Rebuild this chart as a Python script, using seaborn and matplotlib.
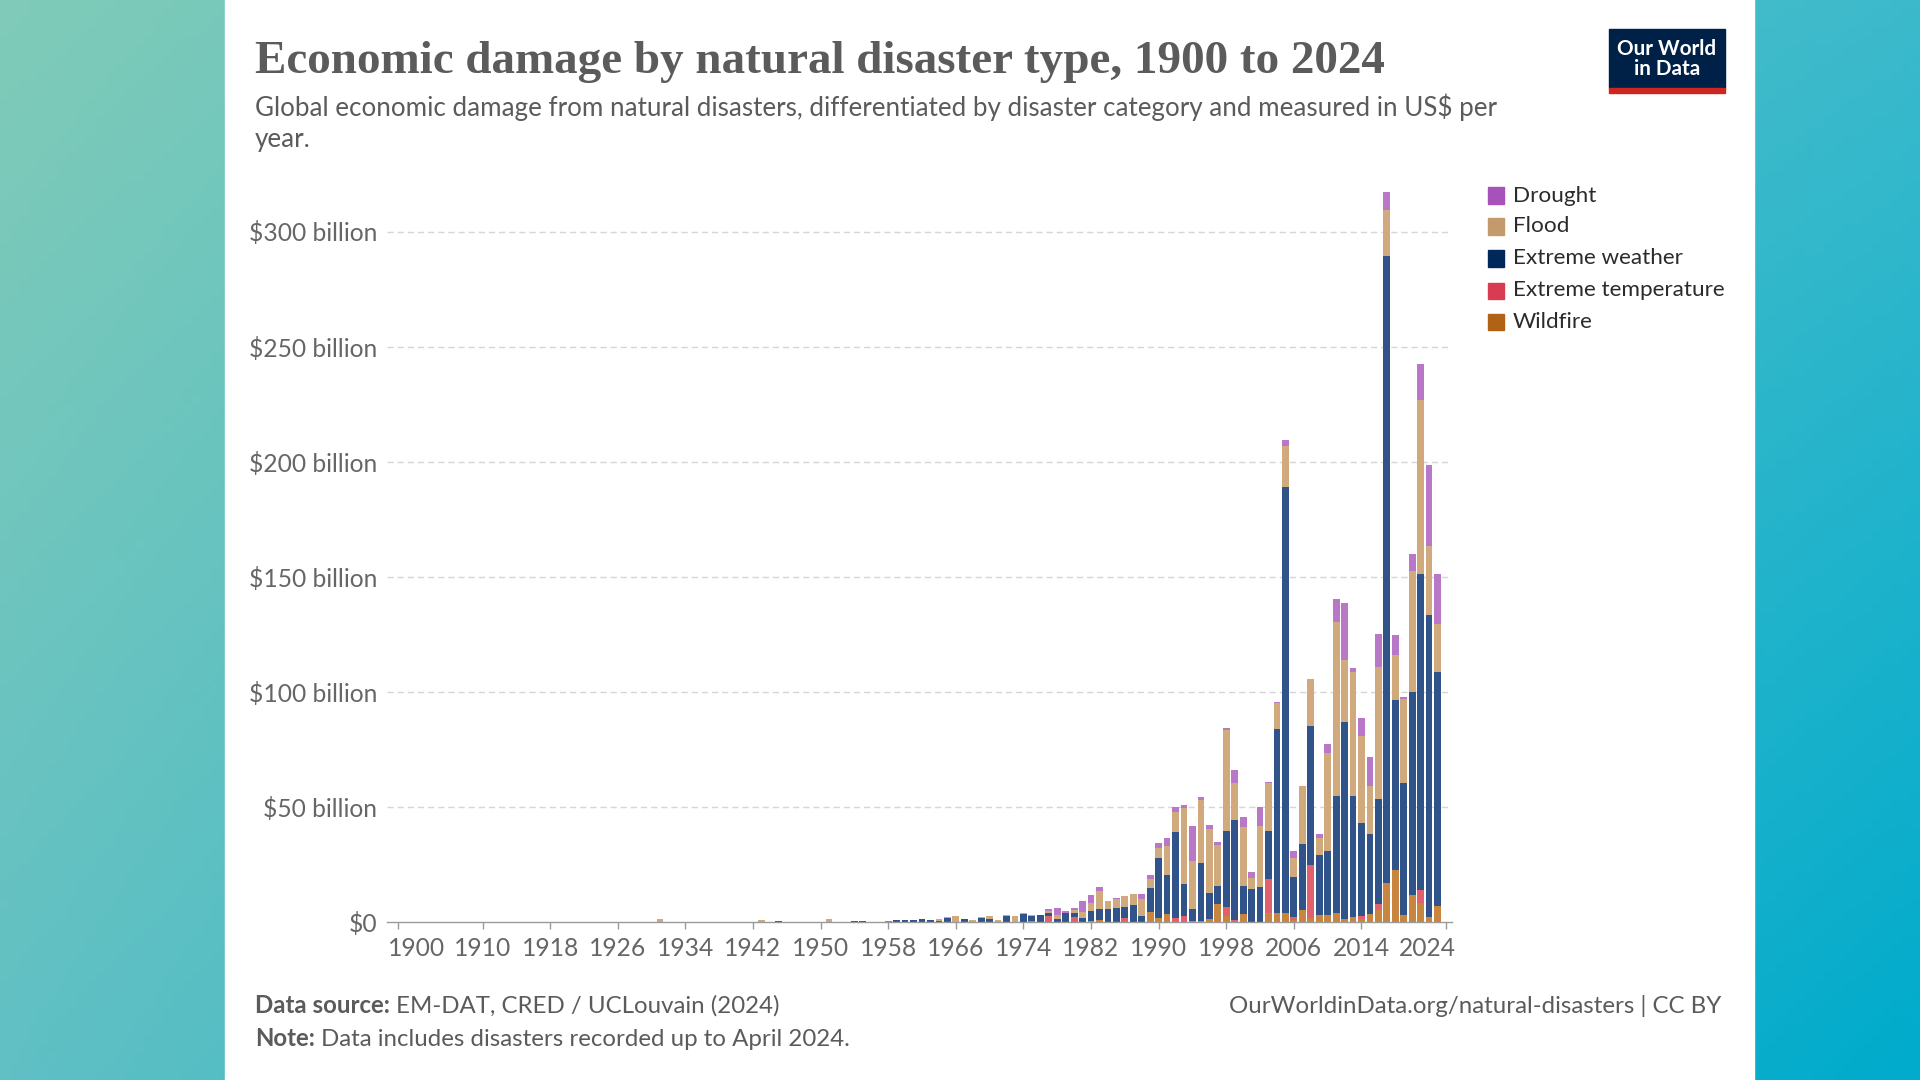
import numpy as np
import pandas as pd
import matplotlib
matplotlib.use("Agg")
import matplotlib.pyplot as plt
import matplotlib.transforms as mtransforms
from matplotlib.patches import Rectangle
import seaborn as sns

# ---------------- data (US$ billion per year) ----------------
years = list(range(1900, 2025))

wildfire = [
    0, 0, 0, 0, 0, 0, 0, 0, 0, 0,            # 1900s
    0, 0, 0, 0, 0, 0, 0, 0, 0, 0,            # 1910s
    0, 0, 0, 0, 0, 0, 0, 0, 0, 0,            # 1920s
    0, 0, 0, 0, 0, 0, 0, 0, 0, 0,            # 1930s
    0, 0, 0, 0, 0, 0, 0, 0, 0, 0,            # 1940s
    0, 0, 0, 0, 0, 0, 0, 0, 0, 0,            # 1950s
    0, 0, 0, 0, 0, 0, 0, 0, 0, 0,            # 1960s
    0, 0, 0, 0, 0, 0, 0, 0, 0, 0,            # 1970s
    0, 0, 0.3, 0.7, 0, 0, 0, 0, 0, 4.4,      # 1980s
    1.9, 3.3, 0, 0, 0.4, 0, 1.5, 8.0, 2.6, 0,  # 1990s
    3.3, 0, 0, 4.0, 4.0, 4.0, 1.0, 5.0, 1.9, 2.9,  # 2000s
    2.9, 3.9, 1.2, 2.0, 1.2, 3.3, 5.0, 17.0, 22.6, 2.9,  # 2010s
    11.8, 8.1, 2.3, 7.0, 0,                   # 2020s
]
extreme_temperature = [
    0, 0, 0, 0, 0, 0, 0, 0, 0, 0,
    0, 0, 0, 0, 0, 0, 0, 0, 0, 0,
    0, 0, 0, 0, 0, 0, 0, 0, 0, 0,
    0, 0, 0, 0, 0, 0, 0, 0, 0, 0,
    0, 0, 0, 0, 0, 0, 0, 0, 0, 0,
    0, 0, 0, 0, 0, 0, 0, 0, 0.3, 0,
    0, 0, 0, 0, 0, 0, 0, 0, 0, 0,
    0, 0, 0, 0, 0, 0.3, 0, 2.6, 0, 0,
    2.0, 0, 0, 0, 0, 0, 1.7, 0, 0, 0,
    0, 0, 1.9, 2.6, 0, 0.5, 0, 0, 4.0, 1.0,
    0, 0, 0, 14.5, 0, 0, 1.0, 0, 22.8, 0,
    0, 0, 0, 0, 1.3, 0, 3.0, 0, 0, 0,
    0, 5.6, 0, 0, 0,
]
extreme_weather = [
    0, 0, 0, 0, 0, 0, 0, 0, 0, 0,
    0, 0, 0, 0.2, 0, 0, 0, 0, 0, 0,
    0, 0, 0, 0, 0, 0, 0, 0, 0, 0,
    0, 0, 0, 0, 0, 0, 0, 0, 0.2, 0,
    0, 0, 0, 0, 0, 0.3, 0, 0, 0, 0,
    0, 0, 0, 0, 0.5, 0.5, 0.2, 0.2, 0.1, 0.7,
    0.7, 0.7, 1.5, 1.0, 0.3, 1.8, 0.2, 1.2, 0, 1.6,
    1.2, 0, 2.6, 0.2, 3.4, 2.3, 2.9, 1.3, 1.5, 3.9,
    1.9, 1.7, 4.4, 5.1, 5.8, 6.1, 4.8, 7.3, 2.6, 10.5,
    25.8, 17.2, 37.4, 14.0, 5.4, 25.0, 11.0, 7.5, 33.0, 43.5,
    12.3, 14.5, 15.0, 21.0, 80.0, 185.0, 17.6, 29.0, 60.6, 26.0,
    28.0, 50.8, 85.7, 52.9, 40.5, 34.9, 45.6, 272.2, 73.7, 57.7,
    88.2, 137.6, 131.0, 101.7, 0,
]
flood = [
    0, 0, 0, 0.2, 0, 0, 0, 0, 0, 0,
    0, 0, 0, 0, 0, 0, 0, 0, 0, 0,
    0, 0, 0, 0, 0, 0, 0, 0, 0, 0,
    0, 1.2, 0, 0, 0, 0, 0, 0, 0, 0,
    0, 0, 0, 0.7, 0, 0, 0, 0, 0, 0,
    0, 1.3, 0, 0, 0, 0, 0, 0, 0, 0,
    0, 0, 0, 0, 1.2, 0.4, 2.4, 0, 0.7, 0.6,
    1.3, 0.9, 0.6, 2.3, 0.7, 0.6, 0, 0.9, 1.5, 0,
    1.2, 2.6, 3.6, 7.7, 3.2, 3.8, 4.7, 4.9, 7.6, 3.8,
    4.5, 12.5, 8.3, 32.8, 20.7, 27.5, 28.0, 18.0, 44.0, 16.0,
    25.8, 4.8, 26.5, 21.0, 11.0, 17.6, 8.3, 25.0, 20.3, 7.7,
    42.5, 75.7, 27.0, 53.5, 37.8, 20.7, 57.0, 20.3, 19.7, 36.1,
    52.3, 75.7, 30.1, 20.7, 0,
]
drought = [
    0, 0, 0, 0, 0, 0, 0, 0, 0, 0,
    0, 0, 0, 0, 0, 0, 0, 0, 0, 0,
    0, 0, 0, 0, 0, 0, 0, 0, 0, 0,
    0, 0, 0, 0, 0, 0, 0, 0, 0, 0,
    0, 0, 0, 0, 0, 0, 0, 0, 0, 0,
    0, 0, 0, 0, 0, 0, 0, 0, 0, 0,
    0, 0, 0, 0, 0, 0, 0, 0, 0, 0,
    0, 0, 0, 0, 0, 0, 0, 0.7, 2.9, 0.9,
    1.0, 4.8, 3.3, 1.7, 0, 0.6, 0, 0, 1.9, 1.7,
    2.0, 3.3, 2.5, 1.6, 15.0, 1.5, 1.7, 1.2, 0.8, 5.5,
    4.2, 2.6, 8.3, 0.5, 0.4, 2.6, 3.0, 0, 0, 1.7,
    4.1, 10.0, 24.9, 2.0, 7.7, 12.9, 14.5, 7.7, 8.9, 1.0,
    7.7, 15.6, 35.1, 21.8, 0,
]

legend_labels = ["Drought", "Flood", "Extreme weather", "Extreme temperature", "Wildfire"]
tick_years = [1900, 1910, 1918, 1926, 1934, 1942, 1950, 1958, 1966, 1974,
              1982, 1990, 1998, 2006, 2014, 2024]
y_ticks = [0, 50, 100, 150, 200, 250, 300]
y_ticklabels = ["$0", "$50 billion", "$100 billion", "$150 billion",
                "$200 billion", "$250 billion", "$300 billion"]

# ---------------- styling ----------------
legend_colors = {"Drought": "#A652BA", "Flood": "#C29A6B", "Extreme weather": "#00295B",
                 "Extreme temperature": "#D73C50", "Wildfire": "#B16214"}
bar_colors = {"Drought": "#B877C7", "Flood": "#D0A97C", "Extreme weather": "#30548A",
              "Extreme temperature": "#E0606E", "Wildfire": "#C88540"}

sns.set_theme(style="white")
plt.rcParams["font.family"] = ["Lato", "DejaVu Sans"]

W, H = 1920, 1080
fig = plt.figure(figsize=(W / 100, H / 100), dpi=100)

def fx(px):
    return px / W

def fy(py):
    return 1 - py / H

# background gradient
bg = fig.add_axes([0, 0, 1, 1], zorder=-10)
gx = np.linspace(0, 1, 200)[None, :]
gy = np.linspace(0, 1, 120)[:, None]
tl = np.array([128, 203, 184]) / 255
tr = np.array([60, 186, 204]) / 255
bl = np.array([96, 192, 196]) / 255
br = np.array([0, 171, 204]) / 255
img = (tl[None, None, :] * (1 - gx[..., None]) * (1 - gy[..., None])
       + tr[None, None, :] * gx[..., None] * (1 - gy[..., None])
       + bl[None, None, :] * (1 - gx[..., None]) * gy[..., None]
       + br[None, None, :] * gx[..., None] * gy[..., None])
bg.imshow(img, aspect="auto", extent=[0, 1, 0, 1], origin="upper")
bg.add_patch(Rectangle((fx(225), 0), fx(1754) - fx(225), 1, color="white", zorder=2))
bg.set_xlim(0, 1)
bg.set_ylim(0, 1)
bg.axis("off")

# ---------------- main chart ----------------
ymax = 320
ax_left, ax_right = 387, 1452
y0_px = 922
px_per_b = (922 - 231.5) / 300
ax_top = y0_px - ymax * px_per_b
ax = fig.add_axes([fx(ax_left), fy(y0_px), fx(ax_right) - fx(ax_left), (y0_px - ax_top) / H])

df = pd.DataFrame({"year": years, "Wildfire": wildfire,
                   "Extreme temperature": extreme_temperature,
                   "Extreme weather": extreme_weather, "Flood": flood, "Drought": drought})
stack_order = ["Wildfire", "Extreme temperature", "Extreme weather", "Flood", "Drought"]
cum = df[stack_order].cumsum(axis=1)

for name in reversed(stack_order):
    sns.barplot(x=df["year"], y=cum[name], native_scale=True, color=bar_colors[name],
                saturation=1, width=0.8, errorbar=None, linewidth=0, ax=ax, zorder=3)

px_per_year = 8.45
ax.set_xlim(1900 - 11 / px_per_year, 2024 + 6 / px_per_year)
ax.set_ylim(0, ymax)
ax.set_xlabel("")
ax.set_ylabel("")
ax.set_yticks(y_ticks)
ax.set_yticklabels(y_ticklabels)
ax.set_xticks(tick_years)
ax.set_xticklabels([str(y) for y in tick_years])
for s in ["top", "right", "left"]:
    ax.spines[s].set_visible(False)
ax.spines["bottom"].set_color("#9a9a9a")
ax.spines["bottom"].set_linewidth(1.0)
ax.spines["bottom"].set_zorder(5)
ax.tick_params(axis="y", length=0, pad=7, labelsize=17.7, labelcolor="#666666")
ax.tick_params(axis="x", length=5, width=1, color="#9a9a9a", pad=6,
               labelsize=17.7, labelcolor="#666666", direction="out", bottom=True)
xlabels = ax.get_xticklabels()
xlabels[0].set_horizontalalignment("left")
xlabels[0].set_transform(xlabels[0].get_transform()
                         + mtransforms.ScaledTranslation(-10 / 100, 0, fig.dpi_scale_trans))
xlabels[-1].set_horizontalalignment("right")
xlabels[-1].set_transform(xlabels[-1].get_transform()
                          + mtransforms.ScaledTranslation(10 / 100, 0, fig.dpi_scale_trans))
for yv in y_ticks[1:]:
    ax.axhline(yv, color="#d6d6d6", lw=1, ls=(0, (4.5, 2.8)), zorder=1)
ax.set_facecolor("none")
ax.grid(False)

# ---------------- texts ----------------
renderer = fig.canvas.get_renderer()

def fit(t, target):
    w = t.get_window_extent(renderer).width
    t.set_fontsize(t.get_fontsize() * target / w)

title = fig.text(fx(255), fy(73), "Economic damage by natural disaster type, 1900 to 2024",
                 family=["Liberation Serif", "DejaVu Serif"], weight="bold",
                 fontsize=34, color="#5b5b5b", va="baseline", ha="left")
fit(title, 1133)

sub1 = fig.text(fx(255), fy(116),
                "Global economic damage from natural disasters, differentiated by disaster category and measured in US$ per",
                fontsize=18, color="#5b5b5b", va="baseline", ha="left")
fit(sub1, 1237)
sub2 = fig.text(fx(255), fy(147), "year.", fontsize=sub1.get_fontsize(),
                color="#5b5b5b", va="baseline", ha="left")

# legend
leg_y = [195.5, 226.5, 258.5, 290.5, 322]
for lab, yy in zip(legend_labels, leg_y):
    fig.patches.append(Rectangle((fx(1488), fy(yy + 8)), fx(16), 16 / H,
                                 transform=fig.transFigure, color=legend_colors[lab], figure=fig))
    fig.text(fx(1513), fy(yy), lab, fontsize=16.2, color="#2b2b2b", va="center", ha="left")

# logo
fig.patches.append(Rectangle((fx(1609), fy(88)), fx(116), 59 / H, transform=fig.transFigure,
                             color="#002147", figure=fig))
fig.patches.append(Rectangle((fx(1609), fy(93)), fx(116), 5 / H, transform=fig.transFigure,
                             color="#CE261E", figure=fig))
logo = fig.text(fx(1667), fy(59), "Our World\nin Data", fontsize=14.9, color="white",
                weight="bold", ha="center", va="center", linespacing=1.05)

# footer
fs_foot = 17.3
b1 = fig.text(fx(255), fy(1013), "Data source:", fontsize=fs_foot, weight="bold",
              color="#5b5b5b", va="baseline", ha="left")
w1 = b1.get_window_extent(renderer).width
fig.text(fx(255 + w1 + 6), fy(1013), "EM-DAT, CRED / UCLouvain (2024)", fontsize=fs_foot,
         color="#5b5b5b", va="baseline", ha="left")
b2 = fig.text(fx(255), fy(1046), "Note:", fontsize=fs_foot, weight="bold",
              color="#5b5b5b", va="baseline", ha="left")
w2 = b2.get_window_extent(renderer).width
fig.text(fx(255 + w2 + 6), fy(1046), "Data includes disasters recorded up to April 2024.",
         fontsize=fs_foot, color="#5b5b5b", va="baseline", ha="left")
fig.text(fx(1721), fy(1013), "OurWorldinData.org/natural-disasters | CC BY", fontsize=fs_foot,
         color="#5b5b5b", va="baseline", ha="right")

fig.savefig("out.png", dpi=100)
